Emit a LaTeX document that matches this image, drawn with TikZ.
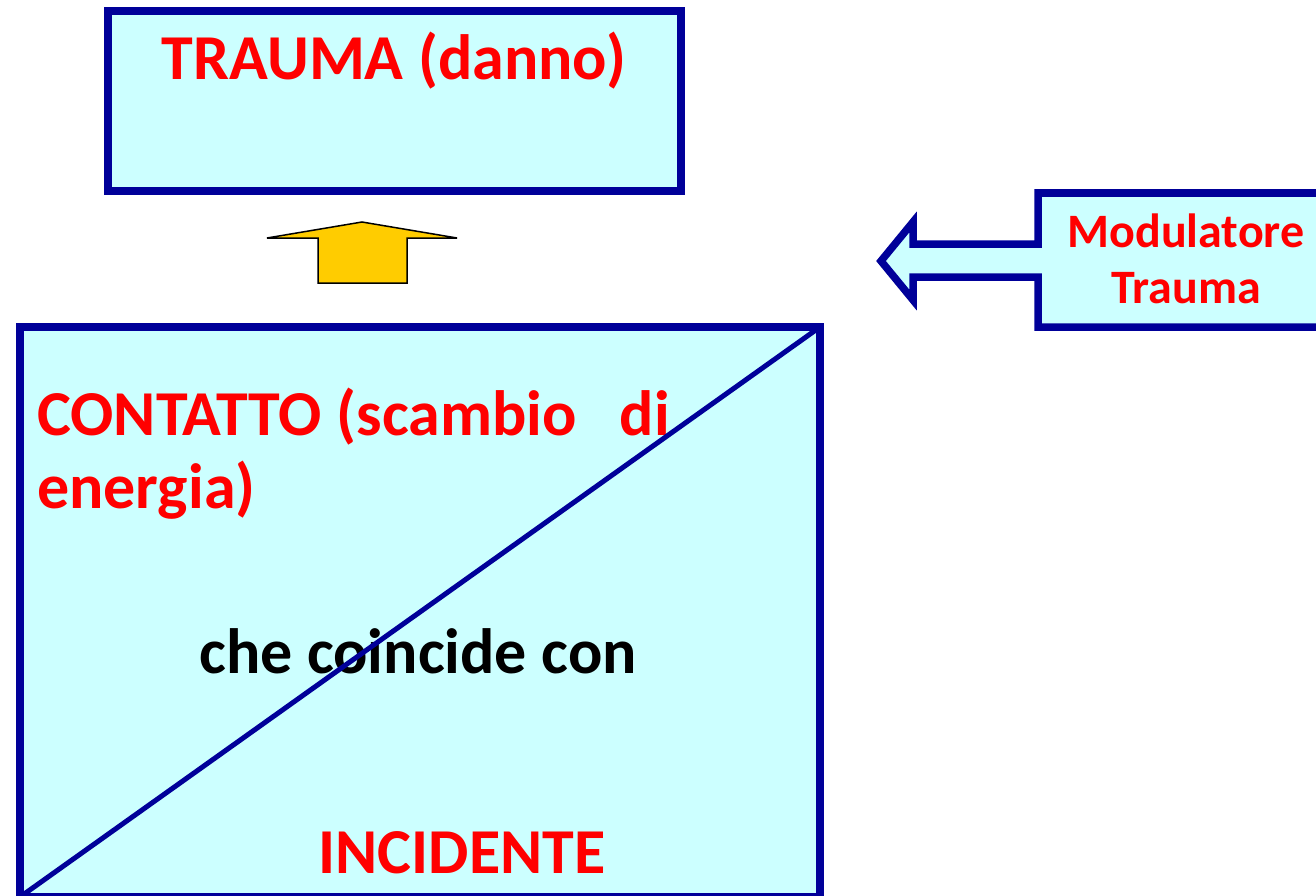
\documentclass[tikz,border=0pt]{standalone}
\usepackage{fontspec}
\setmainfont{Carlito}
\usepackage{xcolor}
\definecolor{boxblue}{RGB}{0,0,153}
\definecolor{boxfill}{RGB}{204,255,255}
\definecolor{arrowyellow}{RGB}{255,204,0}

\tikzset{
  frame/.style={draw=boxblue, line width=7.5pt, fill=boxfill},
  bigtext/.style={font=\bfseries\fontsize{64}{73}\selectfont, inner sep=0pt},
  smalltext/.style={font=\bfseries\fontsize{48}{56}\selectfont, inner sep=0pt, text=red, align=center},
}

\begin{document}
\begin{tikzpicture}[x=1pt,y=-1pt]
    \useasboundingbox (0,0) rectangle (1316,896);
    \clip (0,0) rectangle (1316,896);

    \draw[frame] (108,11) rectangle (681,191); %trauma
    \node[bigtext, text=red, anchor=base] (trauma) at (394,80) {TRAUMA (danno)};

    \draw[fill=arrowyellow, draw=black, line width=1.5pt] (362,222) -- (457,238) -- (407,238) -- (407,283)
        -- (318,283) -- (318,238) -- (267,238) -- cycle; %yellow arrow

    \draw[frame] (1038,193) -- (1330,193) -- (1330,327) -- (1038,327) -- (1038,277) -- (913,277)
        -- (913,300) -- (881,261) -- (913,222) -- (913,244) -- (1038,244) -- cycle; %modulatore
    \node[smalltext, anchor=base] (modulatore) at (1186,247) {Modulatore};
    \node[smalltext, anchor=base] (tr) at (1186,303) {Trauma};

    \draw[frame] (20,327) rectangle (820,897); %contatto
    \coordinate (sw) at (20,897);
    \coordinate (ne) at (820,327);
    \node[bigtext, text=red, anchor=base west] (contatto) at (37,435) {CONTATTO (scambio\hspace{0.45em} di};
    \node[bigtext, text=red, anchor=base west] (energia) at (37,508) {energia)};
    \node[bigtext, text=black, anchor=base] (coincide) at (418,673) {che coincide con};
    \node[bigtext, text=red, anchor=base] (incidente) at (462,873) {INCIDENTE};
    \draw[boxblue, line width=5pt] (sw) -- (ne); %diagonal
\end{tikzpicture}
\end{document}
